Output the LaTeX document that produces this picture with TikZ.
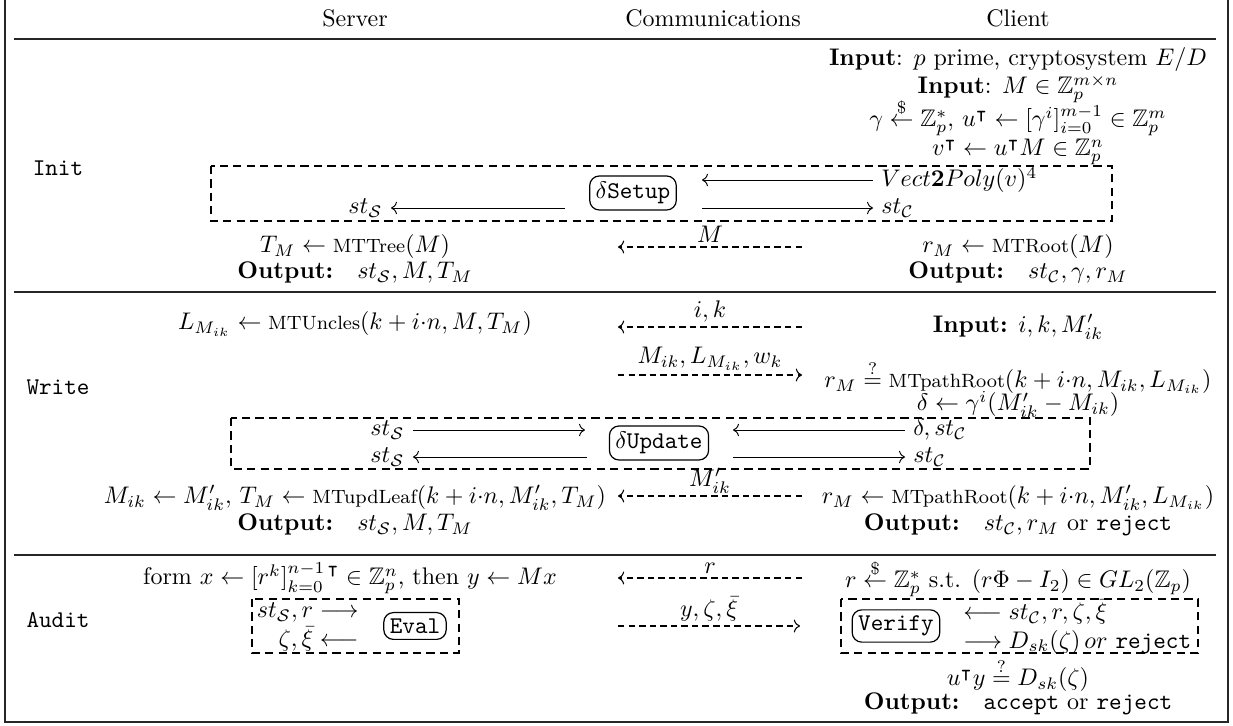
\documentclass[tikz,border=0pt]{standalone}
\usepackage{amsmath,amssymb}
\usetikzlibrary{arrows.meta}
\newcommand{\MTf}[1]{\text{\footnotesize #1}}
\begin{document}
\begin{tikzpicture}[x=0.41667pt,y=-0.41667pt,
  lbl/.style={inner sep=0pt, anchor=center},
  bl/.style={inner sep=0pt, anchor=base},
  side/.style={inner sep=3.3pt},
  clab/.style={above, inner sep=1.8pt},
  proc/.style={draw, rounded corners=4pt, inner sep=2.5pt, line width=0.5pt},
  dbox/.style={dash pattern=on 3.4pt off 2.2pt, line width=0.45pt},
  comm/.style={dash pattern=on 2.7pt off 1.7pt, line width=0.45pt, ->},
  flow/.style={line width=0.4pt, ->},
  rulel/.style={line width=0.55pt, black!85}]
\useasboundingbox (0,0) rectangle (1233,726);
% frame and rules
\draw[rulel] (5,-5) -- (5,722) -- (1228,722) -- (1228,-5);
\draw[rulel] (14,39) -- (1216,39);
\draw[rulel] (14,292) -- (1216,292);
\draw[rulel] (14,555) -- (1216,555);
% header
\node[bl] (hS) at (355,27) {Server};
\node[bl] (hC) at (713,27) {Communications};
\node[bl] (hK) at (1018,27) {Client};
% phase labels
\node[lbl] (linit) at (58,168) {\texttt{Init}};
\node[lbl] (lwrite) at (58,387) {\texttt{Write}};
\node[lbl] (laudit) at (58,620) {\texttt{Audit}};
% ---------------- Init
\node[bl] (in1) at (1018,66) {\textbf{Input}: $p$ prime, cryptosystem $E/D$};
\node[bl] (in2) at (1018,94) {\textbf{Input}: $M\in\mathbb{Z}_p^{m\times n}$};
\node[bl] (gam) at (1018,127) {$\gamma \overset{\$}{\leftarrow} \mathbb{Z}_p^*,\, u^\intercal \leftarrow [\gamma^i]_{i=0}^{m-1} \in \mathbb{Z}_p^m$};
\node[bl] (vT) at (1018,156) {$v^\intercal \leftarrow u^\intercal M \in \mathbb{Z}_p^n$};
\draw[dbox] (211,166) rectangle (1112,221);
\node[proc] (setup) at (633,193) {$\delta$\texttt{Setup}};
\node[side, anchor=west] (vect) at (873,180) {$Vect\mathbf{2}Poly(v)^4$};
\coordinate (a1) at (702,180);
\draw[flow] (vect.west) -- (a1);
\node[side, anchor=west] (stC1) at (873,208) {$st_{\mathcal{C}}$};
\coordinate (a2) at (702,208);
\draw[flow] (a2) -- (stC1.west);
\node[side, anchor=east] (stS1) at (391,208) {$st_{\mathcal{S}}$};
\coordinate (a3) at (565,208);
\draw[flow] (a3) -- (stS1.east);
\coordinate (c1a) at (618,247);
\coordinate (c1b) at (802,247);
\draw[comm] (c1b) -- node[clab] (lM) {$M$} (c1a);
\node[lbl] (tm) at (355,247) {$T_M \leftarrow \MTf{MTTree}(M)$};
\node[bl] (outS1) at (355,279) {\textbf{Output:}\quad $st_{\mathcal{S}}, M, T_M$};
\node[lbl] (rm1) at (1018,247) {$r_M \leftarrow \MTf{MTRoot}(M)$};
\node[bl] (outC1) at (1018,279) {\textbf{Output:}\quad $st_{\mathcal{C}}, \gamma, r_M$};
% ---------------- Write
\coordinate (c2a) at (618,327);
\coordinate (c2b) at (802,327);
\draw[comm] (c2b) -- node[clab] (lik) {$i,k$} (c2a);
\node[lbl] (unc) at (355,324) {$L_{M_{ik}} \leftarrow \MTf{MTUncles}(k+i{\cdot}n, M, T_M)$};
\node[lbl] (in3) at (1018,327) {\textbf{Input:} $i,k,M'_{ik}$};
\coordinate (c3a) at (618,375);
\coordinate (c3b) at (802,375);
\draw[comm] (c3a) -- node[clab] (lML) {$M_{ik}, L_{M_{ik}}, w_k$} (c3b);
\node[lbl] (chk) at (1018,377) {$r_M \stackrel{?}{=} \MTf{MTpathRoot}(k+i{\cdot}n, M_{ik}, L_{M_{ik}})$};
\node[bl] (del) at (1018,411) {$\delta \leftarrow \gamma^i(M'_{ik}-M_{ik})$};
\draw[dbox] (231,418) rectangle (1090,469);
\node[proc] (upd) at (659,443) {$\delta$\texttt{Update}};
\node[side, anchor=east] (stS2) at (413,430) {$st_{\mathcal{S}}$};
\coordinate (b1) at (585,430);
\draw[flow] (stS2.east) -- (b1);
\node[side, anchor=east] (stS3) at (413,457) {$st_{\mathcal{S}}$};
\coordinate (b2) at (587,457);
\draw[flow] (b2) -- (stS3.east);
\node[side, anchor=west] (dstC) at (905,430) {$\delta, st_{\mathcal{C}}$};
\coordinate (b3) at (733,430);
\draw[flow] (dstC.west) -- (b3);
\node[side, anchor=west] (stC2) at (905,457) {$st_{\mathcal{C}}$};
\coordinate (b4) at (733,457);
\draw[flow] (b4) -- (stC2.west);
\coordinate (c4a) at (618,496);
\coordinate (c4b) at (802,496);
\draw[comm] (c4b) -- node[clab, inner sep=1pt] (lMp) {$M'_{ik}$} (c4a);
\node[lbl] (upl) at (355,498) {$M_{ik} \leftarrow M'_{ik},\, T_M \leftarrow \MTf{MTupdLeaf}(k+i{\cdot}n, M'_{ik}, T_M)$};
\node[lbl] (rm2) at (1018,498) {$r_M \leftarrow \MTf{MTpathRoot}(k+i{\cdot}n, M'_{ik}, L_{M_{ik}})$};
\node[bl] (outS2) at (355,531) {\textbf{Output:}\quad $st_{\mathcal{S}}, M, T_M$};
\node[bl] (outC2) at (1018,531) {\textbf{Output:}\quad $st_{\mathcal{C}}, r_M$ or \texttt{reject}};
% ---------------- Audit
\coordinate (c5a) at (618,578);
\coordinate (c5b) at (802,578);
\draw[comm] (c5b) -- node[clab] (lr) {$r$} (c5a);
\node[bl] (form) at (350,585) {form $x \leftarrow [r^k]_{k=0}^{n-1\,\intercal} \in \mathbb{Z}_p^n$, then $y \leftarrow Mx$};
\node[bl] (rsel) at (1018,588) {$r \overset{\$}{\leftarrow} \mathbb{Z}_p^*$ s.t. $(r\Phi - I_2) \in GL_2(\mathbb{Z}_p)$};
\draw[dbox] (252,599) rectangle (459,653);
\node[proc] (eval) at (415,626) {\texttt{Eval}};
\node[side, anchor=east, align=right] (evio) at (367,627) {$st_{\mathcal{S}}, r \longrightarrow$\\ $\zeta,\bar\xi \longleftarrow$};
\coordinate (c6a) at (618,626);
\coordinate (c6b) at (800,626);
\draw[comm] (c6a) -- node[clab] (lyz) {$y,\zeta,\bar\xi$} (c6b);
\draw[dbox] (841,599) rectangle (1198,653);
\node[proc] (ver) at (896,626) {\texttt{Verify}};
\node[side, anchor=west, align=left] (verio) at (955,627) {$\longleftarrow st_{\mathcal{C}}, r, \zeta, \bar\xi$\\ $\longrightarrow D_{sk}(\zeta)\,or$ \texttt{reject}};
\node[bl] (chk2) at (1018,686) {$u^\intercal y \stackrel{?}{=} D_{sk}(\zeta)$};
\node[bl] (outC3) at (1018,710) {\textbf{Output:}\quad \texttt{accept} or \texttt{reject}};
\end{tikzpicture}
\end{document}
